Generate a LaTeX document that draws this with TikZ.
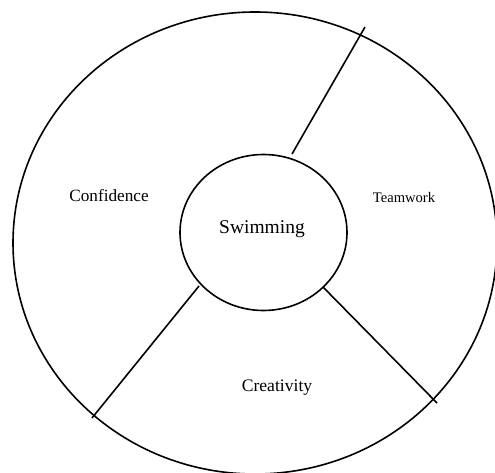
\documentclass[tikz,border=0pt]{standalone}
\usepackage{fontspec}
\setmainfont{Liberation Serif}
\usetikzlibrary{shapes.geometric}
\begin{document}
\begin{tikzpicture}[x=1pt,y=-1pt,
  ring/.style={draw,ellipse,line width=1.6pt,inner sep=0pt,outer sep=0pt},
  spoke/.style={line width=1.6pt},
  lbl/.style={inner sep=0pt,font=\fontsize{#1}{#1}\selectfont},
]
\useasboundingbox (0,0) rectangle (495,473);
\clip (0,0) rectangle (495,473);
\node[ring,minimum width=484pt,minimum height=462pt] (rim) at (255,243) {};
\node[ring,minimum width=167pt,minimum height=156pt] (hub) at (263.5,232.5) {};
\node[lbl=19.5] (swim) at (262,229.5) {Swimming};
\coordinate (a1) at (292,154);
\coordinate (b1) at (365,27);
\coordinate (a2) at (199,286);
\coordinate (b2) at (92,418);
\coordinate (a3) at (323,287);
\coordinate (b3) at (437,403);
\draw[spoke] (a1) -- (b1);
\draw[spoke] (a2) -- (b2);
\draw[spoke] (a3) -- (b3);
\node[lbl=17.2] (conf) at (109,195.5) {Confidence};
\node[lbl=14.6] (team) at (404,197.5) {Teamwork};
\node[lbl=17.6] (crea) at (277,387.5) {Creativity};
\end{tikzpicture}
\end{document}
